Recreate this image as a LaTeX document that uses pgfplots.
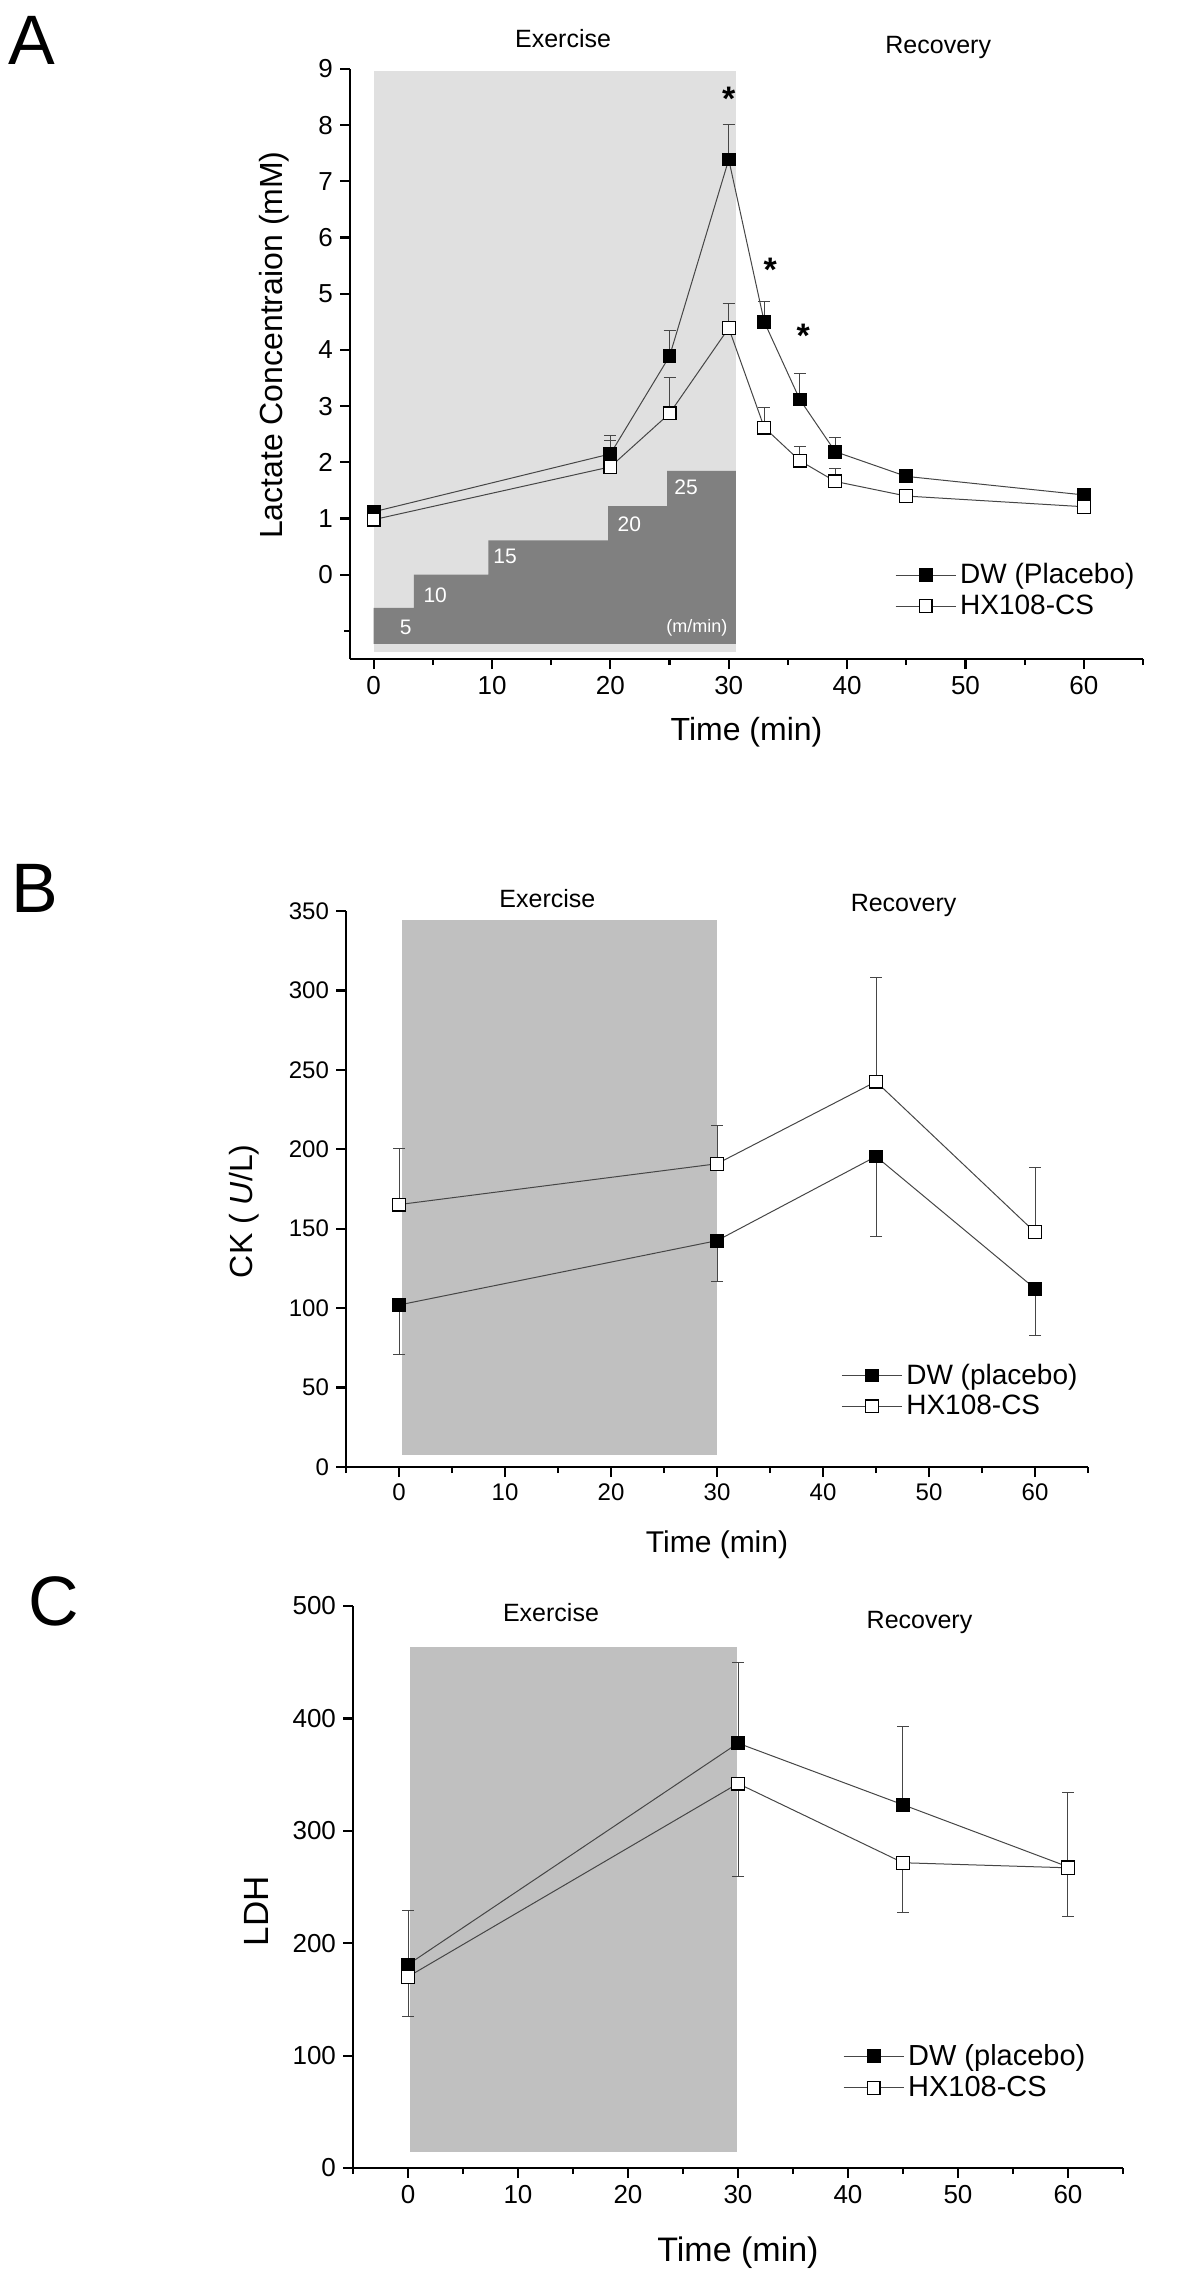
\documentclass[border=0pt]{standalone}
\usepackage{fontspec}
\setmainfont{Liberation Sans}
\usepackage{pgfplots}
\pgfplotsset{compat=1.18}
\definecolor{lgray}{RGB}{224,224,224}
\definecolor{dgray}{RGB}{128,128,128}
\definecolor{mgray}{RGB}{192,192,192}
\definecolor{lnc}{RGB}{70,70,70}
\pgfplotsset{
  common/.style={
    scale only axis,
    axis lines=left,
    axis line style={-, line width=1.1pt},
    tick align=outside,
    major tick length=5pt,
    minor tick length=3pt,
    every tick/.style={black, line width=1.1pt},
    /pgf/number format/assume math mode=true,
    clip=false,
    legend cell align=left,
    legend image code/.code={\draw[mark repeat=2,mark phase=2] plot coordinates {(0pt,0pt) (15pt,0pt) (30pt,0pt)};},
  },
  dw/.style={lnc, line width=0.5pt, mark=square*, mark size=3.2pt, mark options={fill=black, draw=black, solid}},
  hx/.style={lnc, line width=0.5pt, mark=square*, mark size=3.2pt, mark options={fill=white, draw=black, line width=0.6pt, solid}},
  error bars/eb/.style={error bar style={line width=0.5pt, lnc}, error mark options={rotate=90, lnc, line width=0.5pt, mark size=3pt}},
}
\begin{document}
\begin{tikzpicture}
\useasboundingbox (0,0) rectangle (600pt,-1145pt);
\node[font=\fontsize{35}{35}\selectfont] at (16pt,-20pt) {A};
\node[font=\fontsize{35}{35}\selectfont] at (17.5pt,-444pt) {B};
\node[font=\fontsize{35}{35}\selectfont] at (27pt,-800.5pt) {C};

% ---------------- Panel A ----------------
\begin{axis}[common,
  at={(175pt,-329.5pt)}, anchor=south west,
  width=396.5pt, height=295pt,
  xmin=-2, xmax=65, ymin=-1.5, ymax=9,
  xtick={0,10,...,60}, minor xtick={5,15,...,65},
  ytick={0,1,...,9}, minor ytick={-1},
  ticklabel style={font=\fontsize{13}{13}\selectfont},
  xlabel={Time (min)},
  xlabel style={font=\fontsize{16}{16}\selectfont, at={(axis description cs:0.50,-0.124)}, anchor=center},
  ylabel={Lactate Concentraion (mM)},
  ylabel style={font=\fontsize{16}{16}\selectfont, at={(axis description cs:-0.095,0.532)}, anchor=center},
  legend style={draw=none, fill=none, at={(0.687,0.116)}, anchor=west, inner sep=0pt,
    font=\fontsize{14}{17.5}\selectfont, nodes={inner sep=2pt}},
]
\addplot[fill=lgray, draw=none, forget plot] coordinates {(0,-1.37) (0,8.96) (30.6,8.96) (30.6,-1.37)};
\addplot[fill=dgray, draw=none, forget plot] coordinates {(0,-1.23) (0,-0.59) (3.4,-0.59) (3.4,0) (9.7,0) (9.7,0.61) (19.8,0.61) (19.8,1.22) (24.8,1.22) (24.8,1.85) (30.6,1.85) (30.6,-1.23)};
\node[white, font=\fontsize{10.5}{10.5}\selectfont] at (axis cs:2.7,-0.93) {5};
\node[white, font=\fontsize{10.5}{10.5}\selectfont] at (axis cs:5.2,-0.37) {10};
\node[white, font=\fontsize{10.5}{10.5}\selectfont] at (axis cs:11.1,0.32) {15};
\node[white, font=\fontsize{10.5}{10.5}\selectfont] at (axis cs:21.6,0.90) {20};
\node[white, font=\fontsize{10.5}{10.5}\selectfont] at (axis cs:26.4,1.55) {25};
\node[white, font=\fontsize{9}{9}\selectfont] at (axis cs:27.3,-0.94) {(m/min)};
\addplot[dw, error bars/.cd, y dir=plus, y explicit, eb] table[x=x, y=y, y error=e] {
x y e
0 1.12 0.05
20 2.15 0.32
25 3.89 0.45
30 7.39 0.62
33 4.50 0.37
36 3.12 0.47
39 2.19 0.26
45 1.75 0.12
60 1.42 0.05
};
\addlegendentry{DW (Placebo)}
\addplot[hx, error bars/.cd, y dir=plus, y explicit, eb] table[x=x, y=y, y error=e] {
x y e
0 0.98 0.04
20 1.92 0.47
25 2.87 0.64
30 4.39 0.43
33 2.62 0.35
36 2.03 0.25
39 1.66 0.23
45 1.40 0.11
60 1.21 0.04
};
\addlegendentry{HX108-CS}
\node[font=\fontsize{17}{17}\selectfont\bfseries, anchor=base, yshift=-9.9pt] at (axis cs:30,8.61) {*};
\node[font=\fontsize{17}{17}\selectfont\bfseries, anchor=base, yshift=-9.9pt] at (axis cs:33.5,5.57) {*};
\node[font=\fontsize{17}{17}\selectfont\bfseries, anchor=base, yshift=-9.9pt] at (axis cs:36.3,4.39) {*};
\node[font=\fontsize{12.5}{12.5}\selectfont] at (axis cs:16,9.54) {Exercise};
\node[font=\fontsize{12.5}{12.5}\selectfont] at (axis cs:47.7,9.39) {Recovery};
\end{axis}

% ---------------- Panel B ----------------
\begin{axis}[common,
  at={(173pt,-733.5pt)}, anchor=south west,
  width=371pt, height=278pt,
  xmin=-5, xmax=65, ymin=0, ymax=350,
  xtick={0,10,...,60}, minor xtick={-5,5,...,65},
  ytick={0,50,...,350},
  ticklabel style={font=\fontsize{12}{12}\selectfont},
  xlabel={Time (min)},
  xlabel style={font=\fontsize{15}{15}\selectfont, at={(axis description cs:0.50,-0.14)}, anchor=center},
  ylabel={CK ( \textit{U}/L)},
  ylabel style={font=\fontsize{16}{16}\selectfont, at={(axis description cs:-0.137,0.46)}, anchor=center},
  legend style={draw=none, fill=none, at={(0.667,0.137)}, anchor=west, inner sep=0pt,
    font=\fontsize{14}{16}\selectfont, nodes={inner sep=2pt}},
]
\addplot[fill=mgray, draw=none, forget plot] coordinates {(0.3,7.8) (0.3,344.5) (30,344.5) (30,7.8)};
\addplot[dw, error bars/.cd, y dir=minus, y explicit, eb] table[x=x, y=y, y error=e] {
x y e
0 102.0 31.0
30 142.5 25.5
45 195.5 50.5
60 112.3 29.4
};
\addlegendentry{DW (placebo)}
\addplot[hx, error bars/.cd, y dir=plus, y explicit, eb] table[x=x, y=y, y error=e] {
x y e
0 165.2 35.2
30 190.9 24.1
45 242.6 65.8
60 147.8 40.5
};
\addlegendentry{HX108-CS}
\node[font=\fontsize{12.5}{12.5}\selectfont] at (axis cs:14,358) {Exercise};
\node[font=\fontsize{12.5}{12.5}\selectfont] at (axis cs:47.6,353.7) {Recovery};
\end{axis}

% ---------------- Panel C ----------------
\begin{axis}[common,
  at={(176.5pt,-1084pt)}, anchor=south west,
  width=385pt, height=281pt,
  xmin=-5, xmax=65, ymin=0, ymax=500,
  xtick={0,10,...,60}, minor xtick={-5,5,...,65},
  ytick={0,100,...,500},
  ticklabel style={font=\fontsize{13}{13}\selectfont},
  xlabel={Time (min)},
  xlabel style={font=\fontsize{17}{17}\selectfont, at={(axis description cs:0.50,-0.151)}, anchor=center},
  ylabel={LDH},
  ylabel style={font=\fontsize{17.5}{17.5}\selectfont, at={(axis description cs:-0.126,0.457)}, anchor=center},
  legend style={draw=none, fill=none, at={(0.636,0.171)}, anchor=west, inner sep=0pt,
    font=\fontsize{14.5}{16.5}\selectfont, nodes={inner sep=2pt}},
]
\addplot[fill=mgray, draw=none, forget plot] coordinates {(0.2,14.4) (0.2,463.7) (29.9,463.7) (29.9,14.4)};
\addplot[dw, error bars/.cd, y dir=plus, y explicit, eb] table[x=x, y=y, y error=e] {
x y e
0 181.0 47.8
30 378.0 71.7
45 323.2 69.2
60 268.0 65.9
};
\addlegendentry{DW (placebo)}
\addplot[hx, error bars/.cd, y dir=minus, y explicit, eb] table[x=x, y=y, y error=e] {
x y e
0 170.2 35.4
30 342.1 82.8
45 271.6 44.6
60 267.1 43.7
};
\addlegendentry{HX108-CS}
\node[font=\fontsize{12.5}{12.5}\selectfont] at (axis cs:13,493.8) {Exercise};
\node[font=\fontsize{12.5}{12.5}\selectfont] at (axis cs:46.5,485) {Recovery};
\end{axis}
\end{tikzpicture}
\end{document}
